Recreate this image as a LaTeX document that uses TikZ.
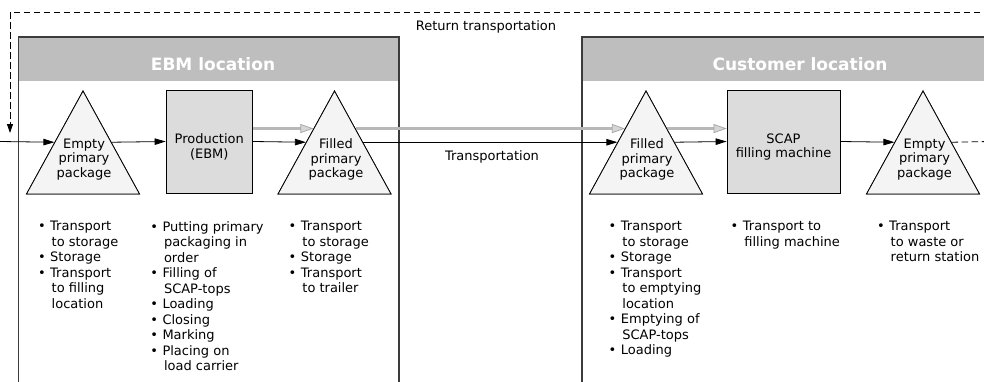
\documentclass[tikz,border=0pt]{standalone}
\usepackage{fontspec}
\setmainfont{DejaVu Sans}
\usetikzlibrary{shapes.geometric,arrows.meta,calc}

\definecolor{headgray}{HTML}{BEBEBE}
\definecolor{procfill}{HTML}{DCDCDC}
\definecolor{trifill}{HTML}{F4F4F4}
\definecolor{bandgray}{HTML}{B8B8B8}
\definecolor{bandlight}{HTML}{D6D6D6}
\definecolor{banddark}{HTML}{A4A4A4}
\definecolor{edgegray}{HTML}{3C3C3C}

% bullet line and continuation line of a list
\newcommand{\bitem}[1]{\llap{\textbullet\hspace{4.5pt}}#1}
\newcommand{\bcont}[1]{\hspace*{1.5pt}#1}

\begin{document}
\begin{tikzpicture}[x=1pt,y=-1pt,
  >={Triangle[length=11pt,width=6.5pt]},
  boxline/.style={draw=edgegray,line width=1.1pt},
  title/.style={text=white,font=\fontsize{17pt}{20pt}\selectfont\bfseries,inner sep=0pt},
  tri/.style={isosceles triangle,isosceles triangle stretches,shape border rotate=90,
    minimum width=113pt,minimum height=103pt,inner sep=0pt,draw=black,line width=0.8pt,
    fill=trifill,anchor=apex},
  procbox/.style={rectangle,draw=black,line width=0.8pt,fill=procfill,inner sep=0pt},
  lbl/.style={align=center,inner sep=0pt,font=\fontsize{13pt}{14.7pt}\selectfont},
  plain/.style={inner sep=0pt,font=\fontsize{13pt}{15.5pt}\selectfont},
  steps/.style={anchor=north west,align=left,inner sep=0pt,font=\fontsize{13pt}{15.5pt}\selectfont},
  flow/.style={draw=black,line width=0.8pt,->},
  grayflow/.style={draw=bandgray,line width=3.6pt,
    -{Triangle[length=13pt,width=9pt,line width=0.7pt,fill=bandlight,color=banddark]}},
  retflow/.style={draw=black,line width=0.8pt,dash pattern=on 6.5pt off 3.5pt}]

\useasboundingbox (0,0) rectangle (984,381);
\clip (0,0) rectangle (984,381);
\fill[white] (0,0) rectangle (984,381);

% location frames with grey headers
\fill[headgray] (18.5,37) rectangle (399,81);
\draw[boxline] (18.5,395) -- (18.5,37) -- (399,37) -- (399,395);
\fill[headgray] (582,37) rectangle (995,81);
\draw[boxline] (582,395) -- (582,37) -- (995,37);
\node[title,anchor=base] (ebmtitle) at (213,70.5) {EBM location};
\node[title,anchor=base] (custtitle) at (800,70.5) {Customer location};

% packages and machines
\node[tri] (t1) at (83,90) {};
\node[procbox,minimum width=86.5pt,minimum height=103pt] (prod) at (209.25,141.5) {};
\node[tri] (t2) at (334.5,90) {};
\node[tri] (t4) at (646,90) {};
\node[procbox,minimum width=113pt,minimum height=103pt] (scap) at (783.5,141.5) {};
\node[tri] (t6) at (923,90) {};

% points where the grey material band meets the triangles
\coordinate (t2gi) at ($(t2.apex)!0.369!(t2.left corner)$);
\coordinate (t2go) at ($(t2.apex)!0.369!(t2.right corner)$);
\coordinate (t4gi) at ($(t4.apex)!0.369!(t4.left corner)$);
\coordinate (t4go) at ($(t4.apex)!0.369!(t4.right corner)$);

% material band
\draw[grayflow] (prod.east |- t2gi) -- (t2gi);
\draw[grayflow] (t2go) -- (t4gi);
\draw[grayflow] (t4go) -- (scap.west |- t4go);

% package flow
\coordinate (inL) at (0,141.5);
\coordinate (exitR) at (990,141.5);
\draw[flow] (inL) -- (t1.left side);
\draw[flow] (t1.right side) -- (prod.west);
\draw[flow] (prod.east) -- (t2.left side);
\draw[flow] (t2.right side) -- (t4.left side);
\draw[flow] (t4.right side) -- (scap.west);
\draw[flow] (scap.east) -- (t6.left side);
\draw[retflow] (t6.right side) -- (exitR);

% return transportation loop
\coordinate (topR) at (990,12);
\coordinate (topL) at (10,12);
\coordinate (retIn) at (10,133);
\draw[retflow] (topR) -- (topL) -- ($(retIn)+(0,-10)$);
\draw[flow,-{Triangle[length=9pt,width=6pt]}] ($(retIn)+(0,-11)$) -- (retIn);

% redraw triangles on top of the lines
\node[tri] at (t1.apex) {};
\node[tri] at (t2.apex) {};
\node[tri] at (t4.apex) {};
\node[tri] at (t6.apex) {};

% labels
\node[lbl] (t1txt) at (84,159.5) {Empty\\primary\\package};
\node[lbl] (prodtxt) at (209.25,147) {Production\\(EBM)};
\node[lbl] (t2txt) at (336,159.5) {Filled\\primary\\package};
\node[lbl] (t4txt) at (647,159.5) {Filled\\primary\\package};
\node[lbl] (scaptxt) at (783.5,147) {SCAP\\filling machine};
\node[lbl] (t6txt) at (924.5,159.5) {Empty\\primary\\package};
\node[plain,anchor=base] (rettxt) at (486,30.5) {Return transportation};
\node[plain,anchor=base] (transtxt) at (492,160.5) {Transportation};

% activity lists
\node[steps] (l1) at (50,221) {\bitem{Transport}\\\bcont{to storage}\\\bitem{Storage}\\\bitem{Transport}\\\bcont{to filling}\\\bcont{location}};
\node[steps] (l2) at (162.3,221) {\bitem{Putting primary}\\\bcont{packaging in}\\\bcont{order}\\\bitem{Filling of}\\\bcont{SCAP-tops}\\\bitem{Loading}\\\bitem{Closing}\\\bitem{Marking}\\\bitem{Placing on}\\\bcont{load carrier}};
\node[steps] (l3) at (300.7,221) {\bitem{Transport}\\\bcont{to storage}\\\bitem{Storage}\\\bitem{Transport}\\\bcont{to trailer}};
\node[steps] (l4) at (620.7,221) {\bitem{Transport}\\\bcont{to storage}\\\bitem{Storage}\\\bitem{Transport}\\\bcont{to emptying}\\\bcont{location}\\\bitem{Emptying of}\\\bcont{SCAP-tops}\\\bitem{Loading}};
\node[steps] (l5) at (742.7,221) {\bitem{Transport to}\\\bcont{filling machine}};
\node[steps] (l6) at (889,221) {\bitem{Transport}\\\bcont{to waste or}\\\bcont{return station}};
\end{tikzpicture}
\end{document}
